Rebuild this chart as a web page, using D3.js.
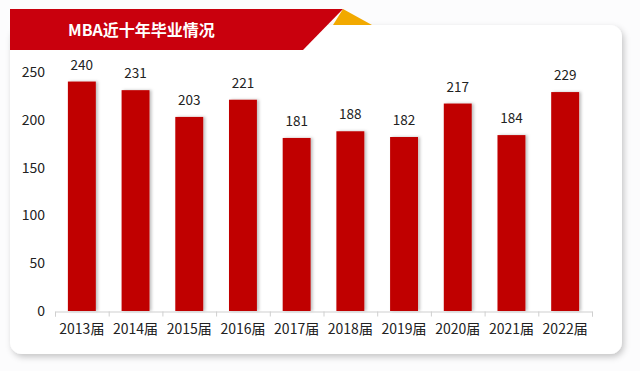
<!DOCTYPE html>
<html><head><meta charset="utf-8">
<script src="https://cdn.jsdelivr.net/npm/d3@7"></script>
<style>body{margin:0;background:#fcfcfd;}svg{display:block;}</style>
</head><body>
<svg id="c" width="640" height="371"></svg>
<script>
const title = "MBA近十年毕业情况";
const categories = ["2013届","2014届","2015届","2016届","2017届","2018届","2019届","2020届","2021届","2022届"];
const values = [240,231,203,221,181,188,182,217,184,229];
const yTicks = [0,50,100,150,200,250];

const svg = d3.select("#c");
const font = "'Noto Sans CJK SC','Noto Sans',sans-serif";
const defs = svg.append("defs");
const f = defs.append("filter").attr("id","sh").attr("x","-10%").attr("y","-10%").attr("width","120%").attr("height","125%");
f.append("feDropShadow").attr("dx",2).attr("dy",3).attr("stdDeviation",3).attr("flood-color","#000").attr("flood-opacity",0.22);
const fb = defs.append("filter").attr("id","bs").attr("x","-20%").attr("y","-5%").attr("width","150%").attr("height","110%");
fb.append("feDropShadow").attr("dx",2).attr("dy",0).attr("stdDeviation",1.5).attr("flood-color","#000").attr("flood-opacity",0.25);

// card
svg.append("rect").attr("x",10).attr("y",25).attr("width",612).attr("height",329).attr("rx",12)
  .attr("fill","#ffffff").attr("filter","url(#sh)");

// banner
svg.append("path").attr("d","M343,9 L372,25 L333,25 Z").attr("fill","#F2A900");
svg.append("path").attr("d","M10,9 L343,9 L303,50 L10,50 Z").attr("fill","#C9000D");
svg.append("text").attr("x",68).attr("y",36).attr("fill","#fff").attr("font-family",font)
  .attr("font-weight","bold").attr("font-size",16).text(title);

const x = d3.scaleBand().domain(categories).range([55,592]).paddingInner(0.48).paddingOuter(0.24);
const y = d3.scaleLinear().domain([0,250]).range([311,72]);

// y axis labels
svg.append("g").selectAll("text").data(yTicks).join("text")
  .attr("x",45).attr("y",d=>y(d)).attr("dy","0.35em").attr("text-anchor","end")
  .attr("font-family",font).attr("font-size",14).attr("fill","#222").text(d=>d);

// bars
svg.append("g").selectAll("rect").data(values).join("rect")
  .attr("x",(d,i)=>x(categories[i])).attr("y",d=>y(d))
  .attr("width",x.bandwidth()).attr("height",d=>y(0)-y(d))
  .attr("fill","#C00000").attr("filter","url(#bs)");

// value labels
svg.append("g").selectAll("text").data(values).join("text")
  .attr("x",(d,i)=>x(categories[i])+x.bandwidth()/2).attr("y",d=>y(d)-12)
  .attr("text-anchor","middle").attr("font-family",font).attr("font-size",13.5).attr("fill","#222").text(d=>d);

// x axis
const xa = d3.axisBottom(d3.scaleLinear().domain([0,10]).range([55,592])).tickValues(d3.range(11)).tickSize(5).tickFormat("");
const g = svg.append("g").attr("transform","translate(0,311.5)").call(xa);
g.selectAll("path,line").attr("stroke","#cfcfcf");
svg.append("g").selectAll("text").data(categories).join("text")
  .attr("x",d=>x(d)+x.bandwidth()/2).attr("y",329).attr("dy","0.35em").attr("text-anchor","middle")
  .attr("font-family",font).attr("font-size",14).attr("fill","#222").text(d=>d);
</script>
</body></html>
